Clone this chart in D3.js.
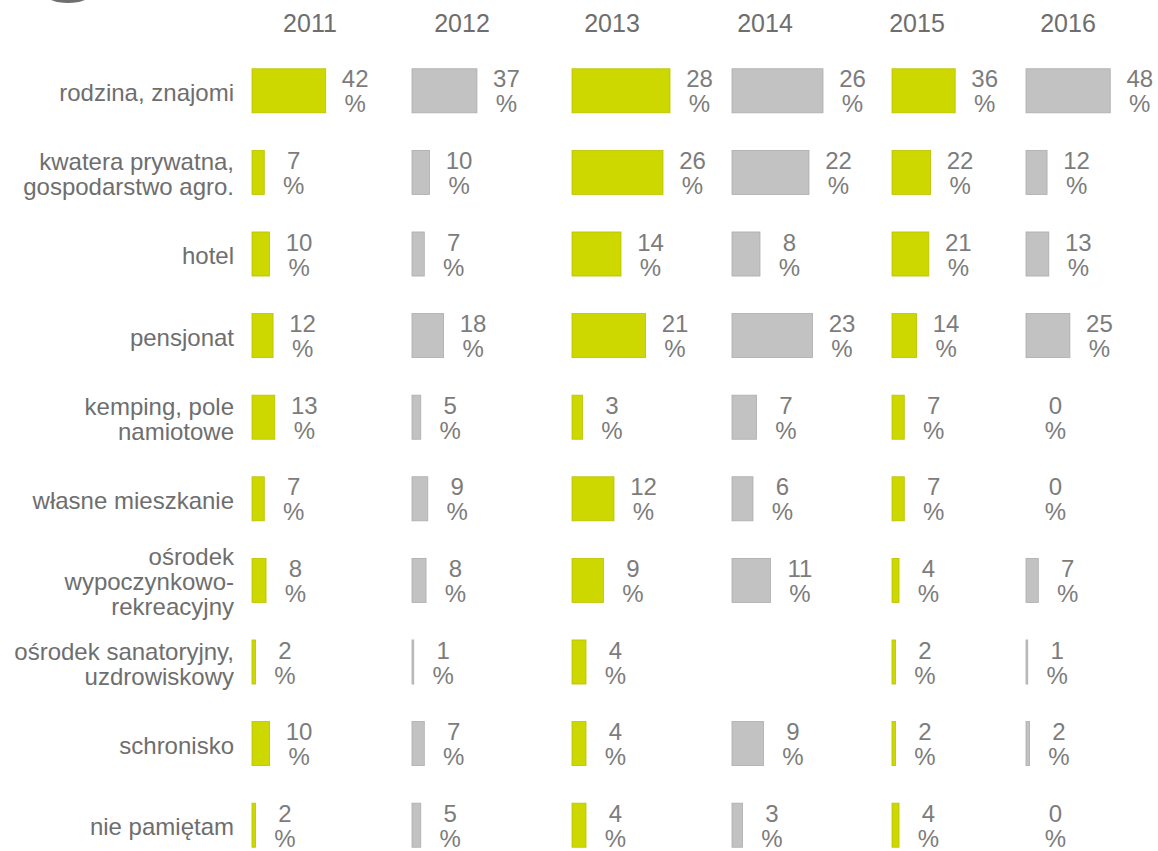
<!DOCTYPE html>
<html>
<head>
<meta charset="utf-8">
<script src="https://cdn.jsdelivr.net/npm/d3@7"></script>
<style>
  body { margin: 0; background: #fff; }
  svg text { font-family: "Liberation Sans", Arial, sans-serif; }
</style>
</head>
<body>
<svg id="chart"></svg>
<script>
const width = 1158;
const height = 851;

// data
const categories = [
  "rodzina, znajomi",
  "kwatera prywatna,\ngospodarstwo agro.",
  "hotel",
  "pensjonat",
  "kemping, pole\nnamiotowe",
  "własne mieszkanie",
  "ośrodek\nwypoczynkowo-\nrekreacyjny",
  "ośrodek sanatoryjny,\nuzdrowiskowy",
  "schronisko",
  "nie pamiętam"
];
const years = ["2011", "2012", "2013", "2014", "2015", "2016"];
const v2011 = [42, 7, 10, 12, 13, 7, 8, 2, 10, 2];
const v2012 = [37, 10, 7, 18, 5, 9, 8, 1, 7, 5];
const v2013 = [28, 26, 14, 21, 3, 12, 9, 4, 4, 4];
const v2014 = [26, 22, 8, 23, 7, 6, 11, null, 9, 3];
const v2015 = [36, 22, 21, 14, 7, 7, 4, 2, 2, 4];
const v2016 = [48, 12, 13, 25, 0, 0, 7, 1, 2, 0];
const series = [v2011, v2012, v2013, v2014, v2015, v2016];

// layout
const colStart = [252, 412, 572, 732, 892, 1026];
const colSpan = [175.5, 175.5, 350, 350, 175.5, 175.5]; // px for 100%
const yearX = [310, 462, 612, 765, 917, 1068];
const green = "#cdd800", greenStroke = "#b9c200";
const grey = "#c2c2c2", greyStroke = "#acacac";
const labelColor = "#6e6e6e";
const valueColor = "#7c7c7c";

var svg = d3.select("#chart")
  .attr("width", width)
  .attr("height", height);

var y = d3.scaleBand()
  .domain(categories)
  .range([50, 866])
  .paddingInner(0.46)
  .paddingOuter(0.23);

// bit of the cut off logo in the top-left corner
svg.append("ellipse")
  .attr("cx", 68).attr("cy", -7)
  .attr("rx", 24).attr("ry", 10)
  .style("fill", "#6f6f6f");

// year headers
svg.append("g").selectAll("text")
  .data(years)
  .enter().append("text")
  .attr("x", (d, i) => yearX[i])
  .attr("y", 32)
  .attr("text-anchor", "middle")
  .style("font-size", "25px")
  .style("fill", labelColor)
  .text(d => d);

// category labels, right aligned
var cat = svg.append("g").selectAll("text")
  .data(categories)
  .enter().append("text")
  .attr("text-anchor", "end")
  .style("font-size", "24px")
  .style("fill", labelColor)
  .attr("transform", d => {
    var n = d.split("\n").length;
    var c = y(d) + y.bandwidth() / 2 + 10 - (n - 1) * 12.5;
    return `translate(234,${c})`;
  });
cat.selectAll("tspan")
  .data(d => d.split("\n"))
  .enter().append("tspan")
  .attr("x", 0)
  .attr("dy", (d, i) => i == 0 ? 0 : 25)
  .text(d => d);

// one column of bars per year
series.forEach((vals, i) => {
  var x = d3.scaleLinear()
    .domain([0, 100])
    .range([colStart[i], colStart[i] + colSpan[i]]);
  var isGreen = i % 2 == 0;
  var rows = categories.map((c, k) => ({ cat: c, v: vals[k] }))
    .filter(d => d.v !== null);

  var g = svg.append("g").attr("class", "col" + years[i]);

  g.selectAll("rect")
    .data(rows.filter(d => d.v > 0))
    .enter().append("rect")
    .attr("x", x(0))
    .attr("y", d => y(d.cat))
    .attr("width", d => x(d.v) - x(0))
    .attr("height", y.bandwidth())
    .style("fill", isGreen ? green : grey)
    .style("stroke", isGreen ? greenStroke : greyStroke)
    .style("stroke-width", 0.8);

  var lab = g.selectAll("text")
    .data(rows)
    .enter().append("text")
    .attr("text-anchor", "middle")
    .style("font-size", "24px")
    .style("fill", valueColor)
    .attr("transform", d => `translate(${x(d.v) + 29.5},${y(d.cat) + y.bandwidth() / 2 - 3.5})`);
  lab.append("tspan").attr("x", 0).attr("dy", 0).text(d => d.v);
  lab.append("tspan").attr("x", 0).attr("dy", 25).text("%");
});
</script>
</body>
</html>
